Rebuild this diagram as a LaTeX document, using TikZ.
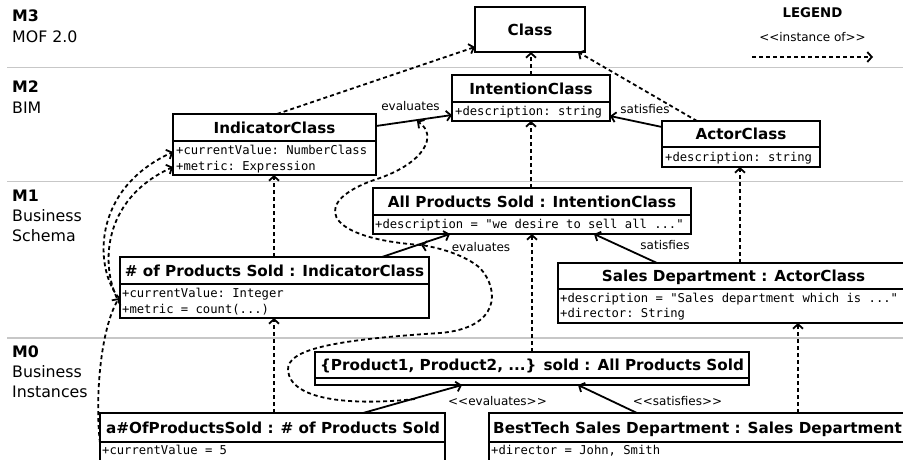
\documentclass[tikz,border=0pt]{standalone}
\usepackage{fontspec}
\setmainfont{DejaVu Sans}
\setmonofont{DejaVu Sans Mono}
\usetikzlibrary{arrows.meta}
\newcommand{\ltlt}{\mbox{<}\mbox{<}}
\newcommand{\gtgt}{\mbox{>}\mbox{>}}
\begin{document}
\begin{tikzpicture}[x=1pt,y=-1pt,
  cls/.style={draw, line width=1.8pt, fill=white, inner sep=0pt, outer sep=0pt, anchor=north west},
  divl/.style={line width=1.6pt},
  ttl/.style={font=\fontsize{15.2}{18}\selectfont\bfseries, inner sep=0pt, anchor=base},
  attr/.style={font=\fontsize{12.2}{15}\selectfont\ttfamily, inner sep=0pt, anchor=base west},
  lvl/.style={font=\fontsize{15.8}{19}\selectfont, inner sep=0pt, anchor=base west},
  lvlb/.style={font=\fontsize{15.8}{19}\selectfont\bfseries, inner sep=0pt, anchor=base west},
  elbl/.style={font=\fontsize{12}{14}\selectfont, inner sep=0pt, anchor=base},
  lgd/.style={font=\fontsize{13.3}{16}\selectfont\bfseries, inner sep=0pt, anchor=base},
  inst/.style={line width=1.8pt, dash pattern=on 4pt off 3pt, -{Straight Barb[length=4.5pt,width=10pt]}},
  rel/.style={line width=1.8pt, -{Straight Barb[length=4.5pt,width=10pt]}},
  sepl/.style={line width=1.8pt, draw=black!22}]
\useasboundingbox (0,0) rectangle (903,459);
\clip (0,0) rectangle (903,459);
% level separators
\coordinate (s1a) at (7,67.5); \coordinate (s1b) at (903,67.5);
\coordinate (s2a) at (7,181.5); \coordinate (s2b) at (903,181.5);
\coordinate (s3a) at (7,338); \coordinate (s3b) at (903,338);
\draw[sepl] (s1a) -- (s1b);
\draw[sepl] (s2a) -- (s2b);
\draw[sepl] (s3a) -- (s3b);
% level labels
\node[lvlb] (m3) at (12,21.5) {M3};
\node[lvl] (m3n) at (12,42.5) {MOF 2.0};
\node[lvlb] (m2) at (12,92.5) {M2};
\node[lvl] (m2n) at (12,113) {BIM};
\node[lvlb] (m1) at (12,201.5) {M1};
\node[lvl] (m1n) at (12,221.5) {Business};
\node[lvl] (m1m) at (12,241.5) {Schema};
\node[lvlb] (m0) at (12,357) {M0};
\node[lvl] (m0n) at (12,377) {Business};
\node[lvl] (m0m) at (12,397) {Instances};
% legend
\node[lgd] (leg) at (812.5,17.3) {LEGEND};
\node[elbl] (legi) at (812.5,41.5) {\ltlt instance of\gtgt};
\coordinate (la) at (752,57); \coordinate (lb) at (873,57);
\draw[inst] (la) -- (lb);
% boxes
\node[cls, minimum width=110pt, minimum height=45pt] (class) at (475,7) {};
\node[ttl] (classt) at (530,35) {Class};

\node[cls, minimum width=158pt, minimum height=46pt] (intc) at (452,75) {};
\draw[divl] (intc.west |- 0,102) -- (intc.east |- 0,102);
\node[ttl] (intct) at (531,94) {IntentionClass};
\node[attr] (intca) at (455,115.5) {+description: string};

\node[cls, minimum width=203pt, minimum height=61pt] (indc) at (173,114) {};
\draw[divl] (indc.west |- 0,141) -- (indc.east |- 0,141);
\node[ttl] (indct) at (274.5,133) {IndicatorClass};
\node[attr] (indca) at (176,154) {+currentValue: NumberClass};
\node[attr] (indcb) at (176,170) {+metric: Expression};

\node[cls, minimum width=158pt, minimum height=46pt] (actc) at (662,121) {};
\draw[divl] (actc.west |- 0,147) -- (actc.east |- 0,147);
\node[ttl] (actct) at (741,139.5) {ActorClass};
\node[attr] (actca) at (665,161) {+description: string};

\node[cls, minimum width=318pt, minimum height=46pt] (aps) at (373,188) {};
\draw[divl] (aps.west |- 0,215) -- (aps.east |- 0,215);
\node[ttl] (apst) at (532,207) {All Products Sold : IntentionClass};
\node[attr] (apsa) at (375,228) {+description = "we desire to sell all ..."};

\node[cls, minimum width=309pt, minimum height=61pt] (nps) at (120,257) {};
\draw[divl] (nps.west |- 0,284) -- (nps.east |- 0,284);
\node[ttl] (npst) at (274.5,276) {\# of Products Sold : IndicatorClass};
\node[attr] (npsa) at (122,297) {+currentValue: Integer};
\node[attr] (npsb) at (122,313) {+metric = count(...)};

\node[cls, minimum width=352pt, minimum height=60pt] (sd) at (558,263) {};
\draw[divl] (sd.west |- 0,289) -- (sd.east |- 0,289);
\node[ttl] (sdt) at (733.5,281.5) {Sales Department : ActorClass};
\node[attr] (sda) at (560,302) {+description = "Sales department which is ..."};
\node[attr] (sdb) at (560,317) {+director: String};

\node[cls, minimum width=434pt, minimum height=33pt] (prod) at (315,352) {};
\draw[divl] (prod.west |- 0,378) -- (prod.east |- 0,378);
\node[ttl] (prodt) at (532,370.5) {\{Product1, Product2, ...\} sold : All Products Sold};

\node[cls, minimum width=345pt, minimum height=60pt] (aof) at (100,413) {};
\draw[divl] (aof.west |- 0,442) -- (aof.east |- 0,442);
\node[ttl] (aoft) at (273,433) {a\#OfProductsSold : \# of Products Sold};
\node[attr] (aofa) at (102,454) {+currentValue = 5};

\node[cls, minimum width=430pt, minimum height=60pt] (bt) at (489,413) {};
\draw[divl] (bt.west |- 0,442) -- (bt.east |- 0,442);
\node[ttl, anchor=base west] (btt) at (493,433) {BestTech Sales Department : Sales Department};
\node[attr] (bta) at (491,454) {+director = John, Smith};

% instance-of connectors
\draw[inst] (indc.north -| 277,0) -- (class.west |- 0,47);
\draw[inst] (intc.north -| 531,0) -- (class.south -| 531,0);
\draw[inst] (actc.north -| 697,0) -- (class.south -| 578,0);
\draw[inst] (nps.north -| 274,0) -- (indc.south -| 274,0);
\draw[inst] (aps.north -| 531,0) -- (intc.south -| 531,0);
\draw[inst] (sd.north -| 740,0) -- (actc.south -| 740,0);
\draw[inst] (prod.north -| 532,0) -- (aps.south -| 532,0);
\draw[inst] (aof.north -| 274,0) -- (nps.south -| 274,0);
\draw[inst] (bt.north -| 798,0) -- (sd.south -| 798,0);
% relations
\draw[rel] (indc.east |- 0,126) -- (intc.west |- 0,115);
\node[elbl] (ev2) at (410.5,110.5) {evaluates};
\draw[rel] (actc.west |- 0,127) -- (intc.east |- 0,116);
\node[elbl] (sa2) at (645,113.5) {satisfies};
\draw[rel] (nps.north -| 382,0) -- (aps.south -| 450,0);
\node[elbl] (ev1) at (481,251.5) {evaluates};
\draw[rel] (sd.north -| 657,0) -- (aps.south -| 594,0);
\node[elbl] (sa1) at (665,249.5) {satisfies};
\draw[rel] (aof.north -| 363,0) -- (prod.south -| 462,0);
\node[elbl] (ev0) at (497.5,405.5) {\ltlt evaluates\gtgt};
\draw[rel] (bt.north -| 637,0) -- (prod.south -| 578,0);
\node[elbl] (sa0) at (677.5,405.5) {\ltlt satisfies\gtgt};
% curved instance-of connectors
\coordinate (ea0) at (415,399);
\coordinate (ea1) at (421,245);
\coordinate (ea2) at (417,121);
\draw[inst] (ea1) .. controls (320,238) and (310,200) .. (380,178)
  .. controls (425,162) and (438,135) .. (ea2);
\draw[inst] (ea0) .. controls (350,406) and (290,400) .. (288,370)
  .. controls (287,350) and (330,340) .. (440,333)
  .. controls (500,328) and (500,290) .. (480,268)
  .. controls (465,255) and (440,248) .. (ea1);
\coordinate (lc0) at (100,443);
\coordinate (lc1) at (119,298);
\coordinate (lc2) at (120,304);
\draw[inst] (lc0) .. controls (95,400) and (100,330) .. (lc1);
\draw[inst] (lc1) .. controls (95,270) and (90,190) .. (indc.west |- 0,152);
\draw[inst] (lc2) .. controls (100,270) and (100,200) .. (indc.west |- 0,167);
\end{tikzpicture}
\end{document}
